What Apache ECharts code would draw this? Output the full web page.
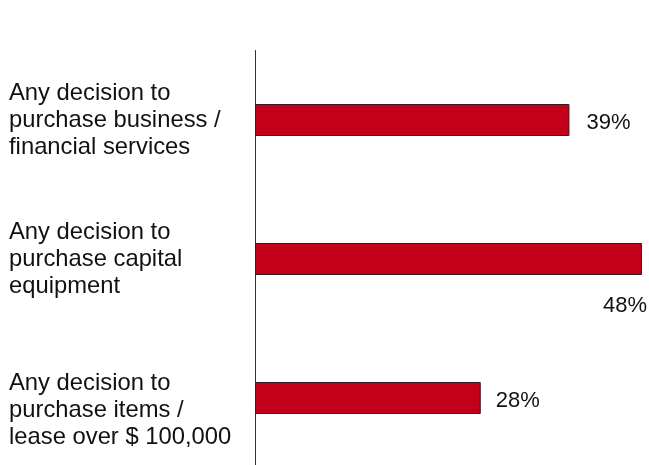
<!DOCTYPE html>
<html>
<head>
<meta charset="utf-8">
<script src="https://cdn.jsdelivr.net/npm/echarts@6/dist/echarts.min.js"></script>
<style>
  html, body { margin: 0; padding: 0; background: #fff; }
  #chart { width: 649px; height: 465px; }
</style>
</head>
<body>
<div id="chart"></div>
<script>
// Decision types, top to bottom
const categories = [
  'Any decision to\npurchase business /\nfinancial services',
  'Any decision to\npurchase capital\nequipment',
  'Any decision to\npurchase items /\nlease over $ 100,000'
];
// Share of respondents involved (%)
const values = [39, 48, 28];

const FONT = "'Liberation Sans', Arial, sans-serif";
const BAR_RED = '#C3001A';

const chart = echarts.init(document.getElementById('chart'), null, { renderer: 'canvas' });

const barData = values.map((v, i) => {
  const item = { value: v };
  if (i === 1) {
    // the longest bar gets its value placed underneath, flush right
    item.label = {
      position: ['100%', '100%'],
      align: 'right',
      verticalAlign: 'top',
      offset: [5, 20],
      distance: 0
    };
  } else if (i === 2) {
    item.label = { distance: 15 };
  }
  return item;
});

chart.setOption({
  animation: false,
  backgroundColor: '#ffffff',
  grid: {
    left: 255, top: 50.5, width: 387, height: 417,
    containLabel: false,
    outerBoundsMode: 'none'
  },
  xAxis: {
    type: 'value',
    min: 0,
    max: 48,
    show: false
  },
  yAxis: {
    type: 'category',
    inverse: true,
    data: categories,
    axisLine: { show: true, lineStyle: { color: '#333333', width: 1 } },
    axisTick: { show: false },
    splitLine: { show: false },
    axisLabel: {
      margin: 246,
      align: 'left',
      color: '#111111',
      fontFamily: FONT,
      fontSize: 23.8,
      lineHeight: 27,
      // the last label block sits a little lower than its bar
      formatter: (value, index) => index === 2 ? '{gap|}\n' + value : value,
      rich: {
        gap: { height: 24, lineHeight: 24, fontSize: 1 }
      }
    }
  },
  series: [{
    type: 'bar',
    data: barData,
    barWidth: 32,
    itemStyle: { color: BAR_RED, borderColor: '#3a1a1a', borderWidth: 1 },
    label: {
      show: true,
      position: 'right',
      distance: 17,
      formatter: '{c}%',
      color: '#111111',
      fontFamily: FONT,
      fontSize: 22,
      offset: [0, 3]
    }
  }]
});
</script>
</body>
</html>
